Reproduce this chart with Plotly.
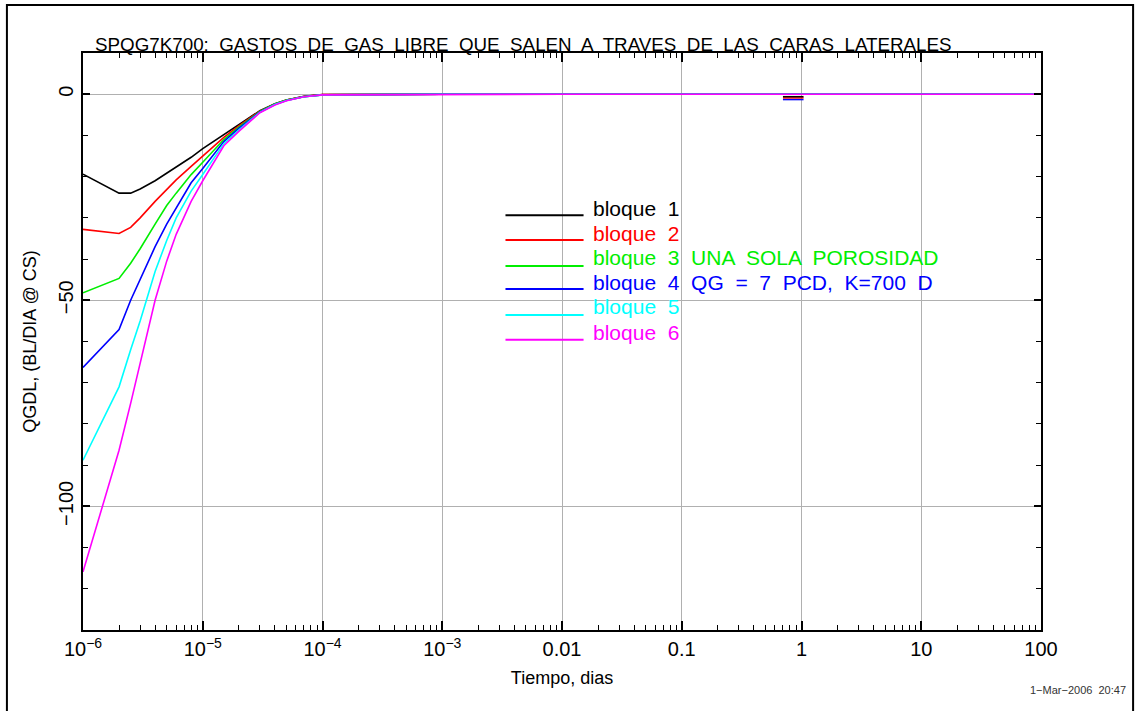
import plotly.graph_objects as go

# ---- data ----
tiempo = [1e-6, 2e-6, 2.5e-6, 3e-6, 4e-6, 5e-6, 6e-6, 8e-6, 1e-5, 1.5e-5, 2e-5,
          3e-5, 4e-5, 5e-5, 7e-5, 1e-4, 1e-3, 1e-2, 0.1, 1, 10, 100]

bloque1 = [-19.4, -24.0, -24.0, -23.0, -21.0, -19.2, -17.7, -15.3, -13.2, -9.8, -7.2,
           -4.0, -2.3, -1.4, -0.5, -0.1, 0, 0, 0, 0, 0, 0]
bloque2 = [-32.8, -33.8, -32.3, -30.0, -26.0, -23.0, -20.8, -17.5, -15.0, -10.5, -7.7,
           -4.1, -2.4, -1.4, -0.55, -0.1, 0, 0, 0, 0, 0, 0]
bloque3 = [-48.2, -44.7, -41.0, -37.5, -31.5, -27.0, -24.0, -19.5, -16.5, -11.0, -8.0,
           -4.2, -2.4, -1.4, -0.6, -0.15, 0, 0, 0, 0, 0, 0]
bloque4 = [-66.3, -57.1, -50.0, -45.0, -37.0, -31.5, -27.5, -21.5, -18.0, -11.5, -8.3,
           -4.3, -2.5, -1.5, -0.6, -0.15, 0, 0, 0, 0, 0, 0]
bloque5 = [-88.8, -71.0, -62.0, -55.0, -43.0, -35.5, -30.0, -23.5, -19.5, -12.0, -8.7,
           -4.4, -2.5, -1.5, -0.6, -0.15, 0, 0, 0, 0, 0, 0]
bloque6 = [-115.9, -86.4, -75.0, -65.0, -50.0, -40.5, -34.0, -26.0, -21.0, -12.5, -9.0,
           -4.5, -2.6, -1.6, -0.6, -0.15, 0, 0, 0, 0, 0, 0]

series = [bloque1, bloque2, bloque3, bloque4, bloque5, bloque6]
colors = ["#000000", "#ff0000", "#00ee00", "#0000ff", "#00ffff", "#ff00ff"]
legend_labels = ["bloque  1", "bloque  2", "bloque  3  UNA  SOLA  POROSIDAD",
                 "bloque  4  QG  =  7  PCD,  K=700  D", "bloque  5", "bloque  6"]

# small marks near t = 1 dia
mark_t = [0.7, 1.04]
mark_vals = {"#0000ff": -1.3, "#ff0000": -0.9, "#000000": -0.6}

x_tickvals = [1e-6, 1e-5, 1e-4, 1e-3, 1e-2, 0.1, 1, 10, 100]
x_ticktext = ["10<sup>−6</sup>", "10<sup>−5</sup>", "10<sup>−4</sup>", "10<sup>−3</sup>",
              "0.01", "0.1", "1", "10", "100"]
y_tickvals = [0, -50, -100]
y_ticktext = ["0", "−50", "−100"]

FONT = "Liberation Sans, Arial, sans-serif"

fig = go.Figure()

for vals, c in zip(series, colors):
    fig.add_trace(go.Scatter(x=tiempo, y=vals, mode="lines",
                             line=dict(color=c, width=1.6), showlegend=False,
                             hoverinfo="skip"))

for c, v in mark_vals.items():
    fig.add_trace(go.Scatter(x=mark_t, y=[v, v], mode="lines",
                             line=dict(color=c, width=1.5), showlegend=False,
                             hoverinfo="skip"))

# legend box (white) covering grid
shapes = [dict(type="rect", xref="paper", yref="paper", x0=0.378, x1=0.901,
               y0=0.360, y1=0.828, fillcolor="white", line=dict(width=0),
               layer="below")]
# outer page frame
shapes.append(dict(type="rect", xref="paper", yref="paper",
                   x0=(7 - 83) / 957, x1=(1132 - 83) / 957,
                   y0=(630 - 720) / 577, y1=(630 - 5) / 577,
                   line=dict(color="black", width=2), fillcolor="rgba(0,0,0,0)"))

annotations = []
line_y = [0.719, 0.676, 0.631, 0.591, 0.546, 0.503]
text_y = [0.731, 0.688, 0.646, 0.603, 0.560, 0.516]
for lbl, c, ly, ty in zip(legend_labels, colors, line_y, text_y):
    shapes.append(dict(type="line", xref="paper", yref="paper", x0=0.441, x1=0.5225,
                       y0=ly, y1=ly, line=dict(color=c, width=2)))
    annotations.append(dict(xref="paper", yref="paper", x=0.530, y=ty, text=lbl,
                            showarrow=False, xanchor="left", yanchor="middle",
                            font=dict(family=FONT, size=21, color=c)))

# title
annotations.append(dict(xref="paper", yref="paper", x=(93 - 83) / 957, y=1.0,
                        text="SPQG7K700:  GASTOS  DE  GAS  LIBRE  QUE  SALEN  A  TRAVES  DE  LAS  CARAS  LATERALES",
                        showarrow=False, xanchor="left", yanchor="bottom", yshift=-4,
                        font=dict(family=FONT, size=18.8, color="black")))
# date stamp
annotations.append(dict(xref="paper", yref="paper", x=(1127 - 83) / 957, y=(630 - 690) / 577,
                        text="1−Mar−2006  20:47", showarrow=False, xanchor="right",
                        yanchor="middle", font=dict(family=FONT, size=11, color="#333333")))

fig.update_layout(
    width=1135, height=711,
    margin=dict(l=83, r=94, t=53, b=81),
    paper_bgcolor="white", plot_bgcolor="white",
    shapes=shapes, annotations=annotations,
    font=dict(family=FONT, color="black"),
)

fig.update_xaxes(type="log", range=[-6, 2],
                 tickvals=x_tickvals, ticktext=x_ticktext,
                 tickfont=dict(size=20, family=FONT),
                 ticks="inside", ticklen=9, tickwidth=1.5, tickcolor="black",
                 showline=True, linecolor="black", linewidth=2, mirror="ticks",
                 showgrid=True, gridcolor="#b0b0b0", gridwidth=1,
                 zeroline=False,
                 minor=dict(dtick="D1", ticks="inside", ticklen=5, tickwidth=1.2,
                            tickcolor="black", showgrid=False),
                 title=dict(text="Tiempo, dias", font=dict(size=18, family=FONT), standoff=12))

fig.update_yaxes(range=[-130, 10],
                 tickvals=y_tickvals, ticktext=y_ticktext, tickangle=-90,
                 tickfont=dict(size=20, family=FONT),
                 ticks="inside", ticklen=7, tickwidth=1.5, tickcolor="black",
                 showline=True, linecolor="black", linewidth=2, mirror="ticks",
                 showgrid=True, gridcolor="#b0b0b0", gridwidth=1,
                 zeroline=False,
                 minor=dict(dtick=10, tick0=0, ticks="inside", ticklen=5, tickwidth=1.2,
                            tickcolor="black", showgrid=False),
                 title=dict(text="QGDL, (BL/DIA @ CS)", font=dict(size=18, family=FONT), standoff=14))

fig.write_html("out.html", config={"displayModeBar": False},
               post_script="document.body.style.margin='0px';document.body.style.overflow='hidden';")
